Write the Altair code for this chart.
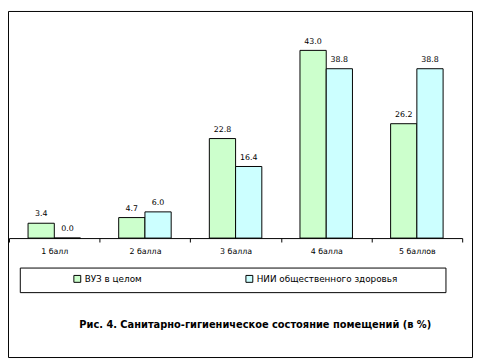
import altair as alt
import pandas as pd

categories = ["1 балл", "2 балла", "3 балла", "4 балла", "5 баллов"]
series = ["ВУЗ в целом", "НИИ общественного здоровья"]
vuz_values = [3.4, 4.7, 22.8, 43.0, 26.2]
nii_values = [0.0, 6.0, 16.4, 38.8, 38.8]
colors = ["#CCFFCC", "#CCFFFF"]
title_text = "Рис. 4. Санитарно-гигиеническое состояние помещений (в %)"

rows = []
for c, v in zip(categories, vuz_values):
    rows.append({"cat": c, "series": series[0], "value": v})
for c, v in zip(categories, nii_values):
    rows.append({"cat": c, "series": series[1], "value": v})
df = pd.DataFrame(rows)

FONT = "DejaVu Sans"
W, H = 461, 222

x_enc = alt.X(
    "cat:N", sort=categories,
    scale=alt.Scale(paddingInner=0, paddingOuter=0),
    axis=alt.Axis(title=None, labelAngle=0, labelFont=FONT, labelFontSize=8,
                  labelColor="black", tickBand="extent", tickSize=4,
                  tickColor="black", domainColor="black", labelPadding=6,
                  grid=False),
)
xoff = alt.XOffset("series:N", sort=series,
                   scale=alt.Scale(paddingInner=0, paddingOuter=0.727))
y_enc = alt.Y("value:Q", scale=alt.Scale(domain=[0, 50], nice=False), axis=None)

base = alt.Chart(df)

bars = base.mark_bar(stroke="black", strokeWidth=1).encode(
    x=x_enc, xOffset=xoff, y=y_enc,
    color=alt.Color("series:N", sort=series,
                    scale=alt.Scale(domain=series, range=colors),
                    legend=alt.Legend(title=None, orient="none", legendX=65, legendY=259,
                                      direction="horizontal", columns=2, columnPadding=103,
                                      symbolType="square", symbolSize=49,
                                      symbolStrokeColor="black", symbolStrokeWidth=1,
                                      labelFont=FONT, labelFontSize=9, labelColor="black",
                                      padding=0, labelOffset=3)),
)

labels = base.mark_text(baseline="bottom", dy=-5, font=FONT, fontSize=8, color="black").encode(
    x=x_enc, xOffset=xoff, y=y_enc,
    text=alt.Text("value:Q", format=".1f"),
)

one = pd.DataFrame({"t": [title_text]})

legend_box = alt.Chart(one).mark_rect(
    fill=None, stroke="black", strokeWidth=1).encode(
    x=alt.value(11.5), x2=alt.value(444.5), y=alt.value(252.5), y2=alt.value(277.5))

frame = alt.Chart(one).mark_rect(
    fill=None, stroke="black", strokeWidth=1).encode(
    x=alt.value(-0.5), x2=alt.value(471.5), y=alt.value(-8.5), y2=alt.value(343.5))

caption = alt.Chart(one).mark_text(
    font=FONT, fontSize=10, fontWeight="bold", color="black",
    align="center", baseline="middle").encode(
    x=alt.value(250.5), y=alt.value(310), text="t:N")

chart = alt.layer(bars, labels, legend_box, frame, caption).properties(
    width=W, height=H,
    padding={"left": 1, "top": 9, "right": 11, "bottom": 122},
    autosize=alt.AutoSizeParams(type="none"),
    background="white",
).configure_view(stroke=None)

chart.save("out.html", embed_options={"renderer": "svg", "actions": False})
